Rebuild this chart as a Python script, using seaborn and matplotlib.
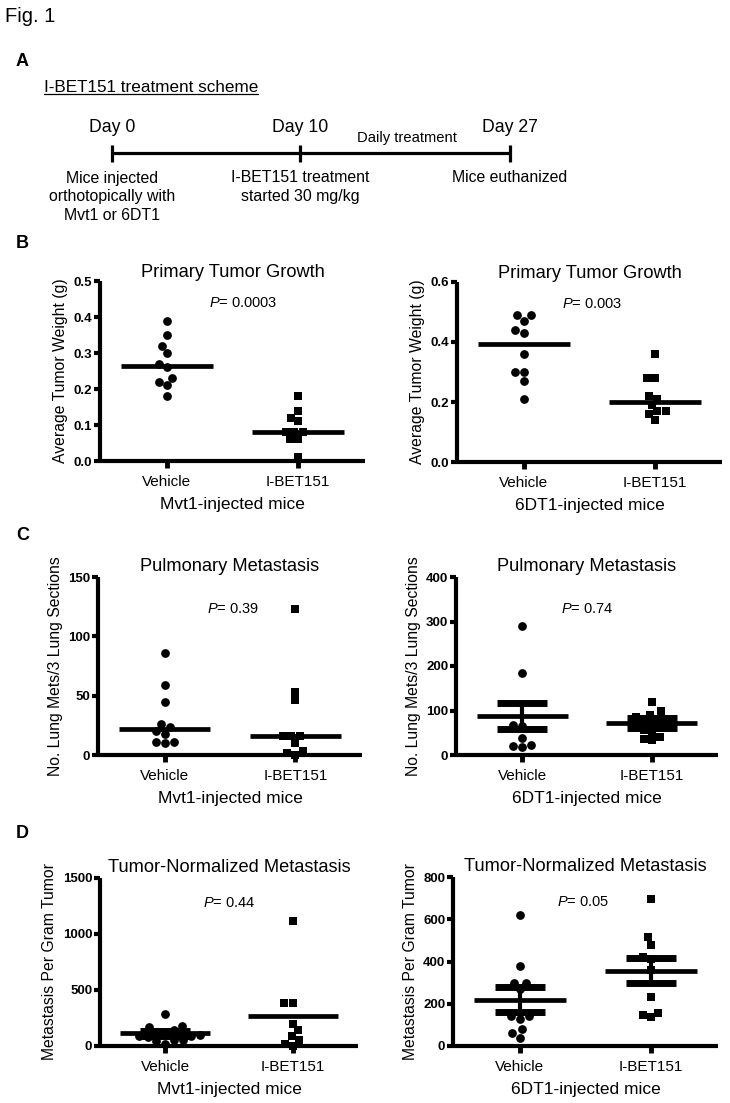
import matplotlib
matplotlib.use("Agg")
import matplotlib.pyplot as plt
from matplotlib import font_manager
import pandas as pd
import seaborn as sns

# x categories
groups = ["Vehicle", "I-BET151"]

# B: primary tumor weight (g)
weight_mvt1_vehicle = [0.39, 0.35, 0.32, 0.30, 0.27, 0.26, 0.23, 0.22, 0.21, 0.18]
weight_mvt1_ibet = [0.18, 0.14, 0.12, 0.11, 0.08, 0.08, 0.08, 0.06, 0.06, 0.01]
weight_mvt1_center = [0.265, 0.08]
weight_6dt1_vehicle = [0.49, 0.49, 0.47, 0.44, 0.43, 0.36, 0.30, 0.30, 0.27, 0.21]
weight_6dt1_ibet = [0.36, 0.28, 0.28, 0.22, 0.21, 0.19, 0.17, 0.17, 0.16, 0.14]
weight_6dt1_center = [0.395, 0.20]

# C: lung mets / 3 lung sections
mets_mvt1_vehicle = [86, 59, 45, 26, 24, 20, 18, 11, 11, 10]
mets_mvt1_ibet = [123, 53, 46, 16, 16, 16, 10, 3, 2, 0]
mets_mvt1_center = [22, 16]
mets_6dt1_vehicle = [290, 185, 67, 65, 38, 22, 20, 18]
mets_6dt1_ibet = [118, 98, 90, 86, 82, 78, 72, 70, 65, 60, 56, 52, 40, 36, 33]
mets_6dt1_center = [87, 72]
mets_6dt1_sem = [29, 12]

# D: metastasis per gram tumor
norm_mvt1_vehicle = [290, 180, 170, 140, 125, 110, 95, 90, 85, 80, 55, 50, 45, 20]
norm_mvt1_ibet = [1120, 385, 380, 200, 140, 90, 50, 20, 0]
norm_mvt1_center = [115, 265]
norm_mvt1_sem = [23, 0]
norm_6dt1_vehicle = [620, 380, 300, 300, 270, 140, 140, 130, 80, 60, 40]
norm_6dt1_ibet = [695, 515, 480, 420, 410, 360, 230, 155, 145, 135]
norm_6dt1_center = [220, 357]
norm_6dt1_sem = [59, 60]

p_values = ["0.0003", "0.003", "0.39", "0.74", "0.44", "0.05"]

# timeline (panel A)
timeline_days = ["Day 0", "Day 10", "Day 27"]
timeline_notes = [
    ["Mice injected", "orthotopically with", "Mvt1 or 6DT1"],
    ["I-BET151 treatment", "started 30 mg/kg"],
    ["Mice euthanized"],
]

W, H = 730, 1103
sns.set_style("ticks", rc={"axes.edgecolor": "black", "xtick.color": "black",
                           "ytick.color": "black", "text.color": "black",
                           "axes.labelcolor": "black"})
names = {f.name for f in font_manager.fontManager.ttflist}
if "Liberation Sans Narrow" in names:
    NARROW, NS = "Liberation Sans Narrow", 1.0
else:
    NARROW, NS = "Liberation Sans", 0.82
plt.rcParams["font.family"] = ["Liberation Sans", "DejaVu Sans"]
plt.rcParams["mathtext.fontset"] = "custom"
plt.rcParams["mathtext.it"] = "Liberation Sans:italic"
plt.rcParams["mathtext.rm"] = "Liberation Sans"

fig = plt.figure(figsize=(W / 100, H / 100), dpi=100)

# overlay in pixel coordinates for the header / panel letters
ov = fig.add_axes([0, 0, 1, 1])
ov.set_xlim(0, W)
ov.set_ylim(H, 0)
ov.axis("off")

ov.text(5, 17, "Fig. 1", fontsize=14.5, va="center", ha="left")
for letter, yy in zip("ABCD", [62, 243, 535, 833]):
    ov.text(16, yy, letter, fontsize=13, fontweight="bold", va="center", ha="left")

scheme = ov.text(44, 87, "I-BET151 treatment scheme", fontsize=15 * NS,
                 family=NARROW, va="center", ha="left")

tl_x = [112, 300, 510]
ov.plot([tl_x[0], tl_x[-1]], [153, 153], color="black", lw=2.3, solid_capstyle="butt")
for x, day, note in zip(tl_x, timeline_days, timeline_notes):
    ov.plot([x, x], [145, 162], color="black", lw=2.3, solid_capstyle="butt")
    ov.text(x, 128, day, fontsize=15.5 * NS, family=NARROW, ha="center", va="center")
    for i, line in enumerate(note):
        ov.text(x, 178 + 18.5 * i, line, fontsize=14 * NS, family=NARROW,
                ha="center", va="center")
ov.text(407, 138, "Daily treatment", fontsize=13 * NS, family=NARROW,
        ha="center", va="center")

panels = [
    dict(v=weight_mvt1_vehicle, i=weight_mvt1_ibet, c=weight_mvt1_center, e=None,
         yt=[0, 0.1, 0.2, 0.3, 0.4, 0.5], fmt="{:.1f}", title="Primary Tumor Growth",
         ylab="Average Tumor Weight (g)", xlab="Mvt1-injected mice"),
    dict(v=weight_6dt1_vehicle, i=weight_6dt1_ibet, c=weight_6dt1_center, e=None,
         yt=[0, 0.2, 0.4, 0.6], fmt="{:.1f}", title="Primary Tumor Growth",
         ylab="Average Tumor Weight (g)", xlab="6DT1-injected mice"),
    dict(v=mets_mvt1_vehicle, i=mets_mvt1_ibet, c=mets_mvt1_center, e=None,
         yt=[0, 50, 100, 150], fmt="{:d}", title="Pulmonary Metastasis",
         ylab="No. Lung Mets/3 Lung Sections", xlab="Mvt1-injected mice"),
    dict(v=mets_6dt1_vehicle, i=mets_6dt1_ibet, c=mets_6dt1_center, e=mets_6dt1_sem,
         yt=[0, 100, 200, 300, 400], fmt="{:d}", title="Pulmonary Metastasis",
         ylab="No. Lung Mets/3 Lung Sections", xlab="6DT1-injected mice"),
    dict(v=norm_mvt1_vehicle, i=norm_mvt1_ibet, c=norm_mvt1_center, e=norm_mvt1_sem,
         yt=[0, 500, 1000, 1500], fmt="{:d}", title="Tumor-Normalized Metastasis",
         ylab="Metastasis Per Gram Tumor", xlab="Mvt1-injected mice"),
    dict(v=norm_6dt1_vehicle, i=norm_6dt1_ibet, c=norm_6dt1_center, e=norm_6dt1_sem,
         yt=[0, 200, 400, 600, 800], fmt="{:d}", title="Tumor-Normalized Metastasis",
         ylab="Metastasis Per Gram Tumor", xlab="6DT1-injected mice"),
]

# layout: pixel boxes (x0, x1, ytop, ybottom), p-text spot, title pad
boxes = [(100, 365, 281, 461), (457, 722, 282, 462),
         (98, 362, 577, 755), (456, 718, 577, 755),
         (100, 358, 878, 1046), (453, 718, 877, 1046)]
p_pos = [(0.54, 0.88), (0.51, 0.88), (0.51, 0.82), (0.50, 0.82), (0.50, 0.85), (0.49, 0.85)]
title_pads = [2, 2, 4, 4, 4, 4]

for pan, box, pp, tp, pv in zip(panels, boxes, p_pos, title_pads, p_values):
    x0, x1, y0, y1 = box
    ax = fig.add_axes([x0 / W, 1 - y1 / H, (x1 - x0) / W, (y1 - y0) / H])
    df_v = pd.DataFrame({"group": groups[0], "value": pan["v"]})
    df_i = pd.DataFrame({"group": groups[1], "value": pan["i"]})
    sns.swarmplot(data=df_v, x="group", y="value", order=groups, marker="o",
                  color="black", size=6.3, ax=ax, clip_on=False, zorder=2)
    sns.swarmplot(data=df_i, x="group", y="value", order=groups, marker="s",
                  color="black", size=5.8, ax=ax, clip_on=False, zorder=2)
    for k in range(2):
        ax.hlines(pan["c"][k], k - 0.35, k + 0.35, color="black", lw=3.4, zorder=3)
        if pan["e"] is not None and pan["e"][k] > 0:
            ax.errorbar(k, pan["c"][k], yerr=pan["e"][k], fmt="none", ecolor="black",
                        elinewidth=3, capsize=18, capthick=5, zorder=3)
    ax.set_xlim(-0.51, 1.51)
    ax.set_ylim(pan["yt"][0], pan["yt"][-1])
    ax.set_yticks(pan["yt"], [pan["fmt"].format(t) for t in pan["yt"]],
                  fontweight="bold")
    sns.despine(ax=ax)
    for s in ["left", "bottom"]:
        ax.spines[s].set_linewidth(3)
        ax.spines[s].set_capstyle("butt")
    ax.tick_params(axis="y", length=4.5, width=3, labelsize=9.5, pad=1)
    ax.tick_params(axis="x", length=5, width=3.5, labelsize=11, pad=5)
    ax.set_xlabel(pan["xlab"], fontsize=12.5, labelpad=6)
    ax.set_ylabel(pan["ylab"], fontsize=11.3, labelpad=4)
    ax.set_title(pan["title"], fontsize=16 * NS, family=NARROW, pad=tp)
    ax.text(pp[0], pp[1], "$P$= " + pv, transform=ax.transAxes, fontsize=10.5,
            ha="center", va="center")

# underline for the scheme heading
fig.canvas.draw()
bb = scheme.get_window_extent()
inv = ov.transData.inverted()
(ux0, uy0), (ux1, _) = inv.transform([(bb.x0, bb.y0), (bb.x1, bb.y0)])
ov.plot([ux0, ux1], [uy0 - 1, uy0 - 1], color="black", lw=0.9)

fig.savefig("out.png", dpi=100)
